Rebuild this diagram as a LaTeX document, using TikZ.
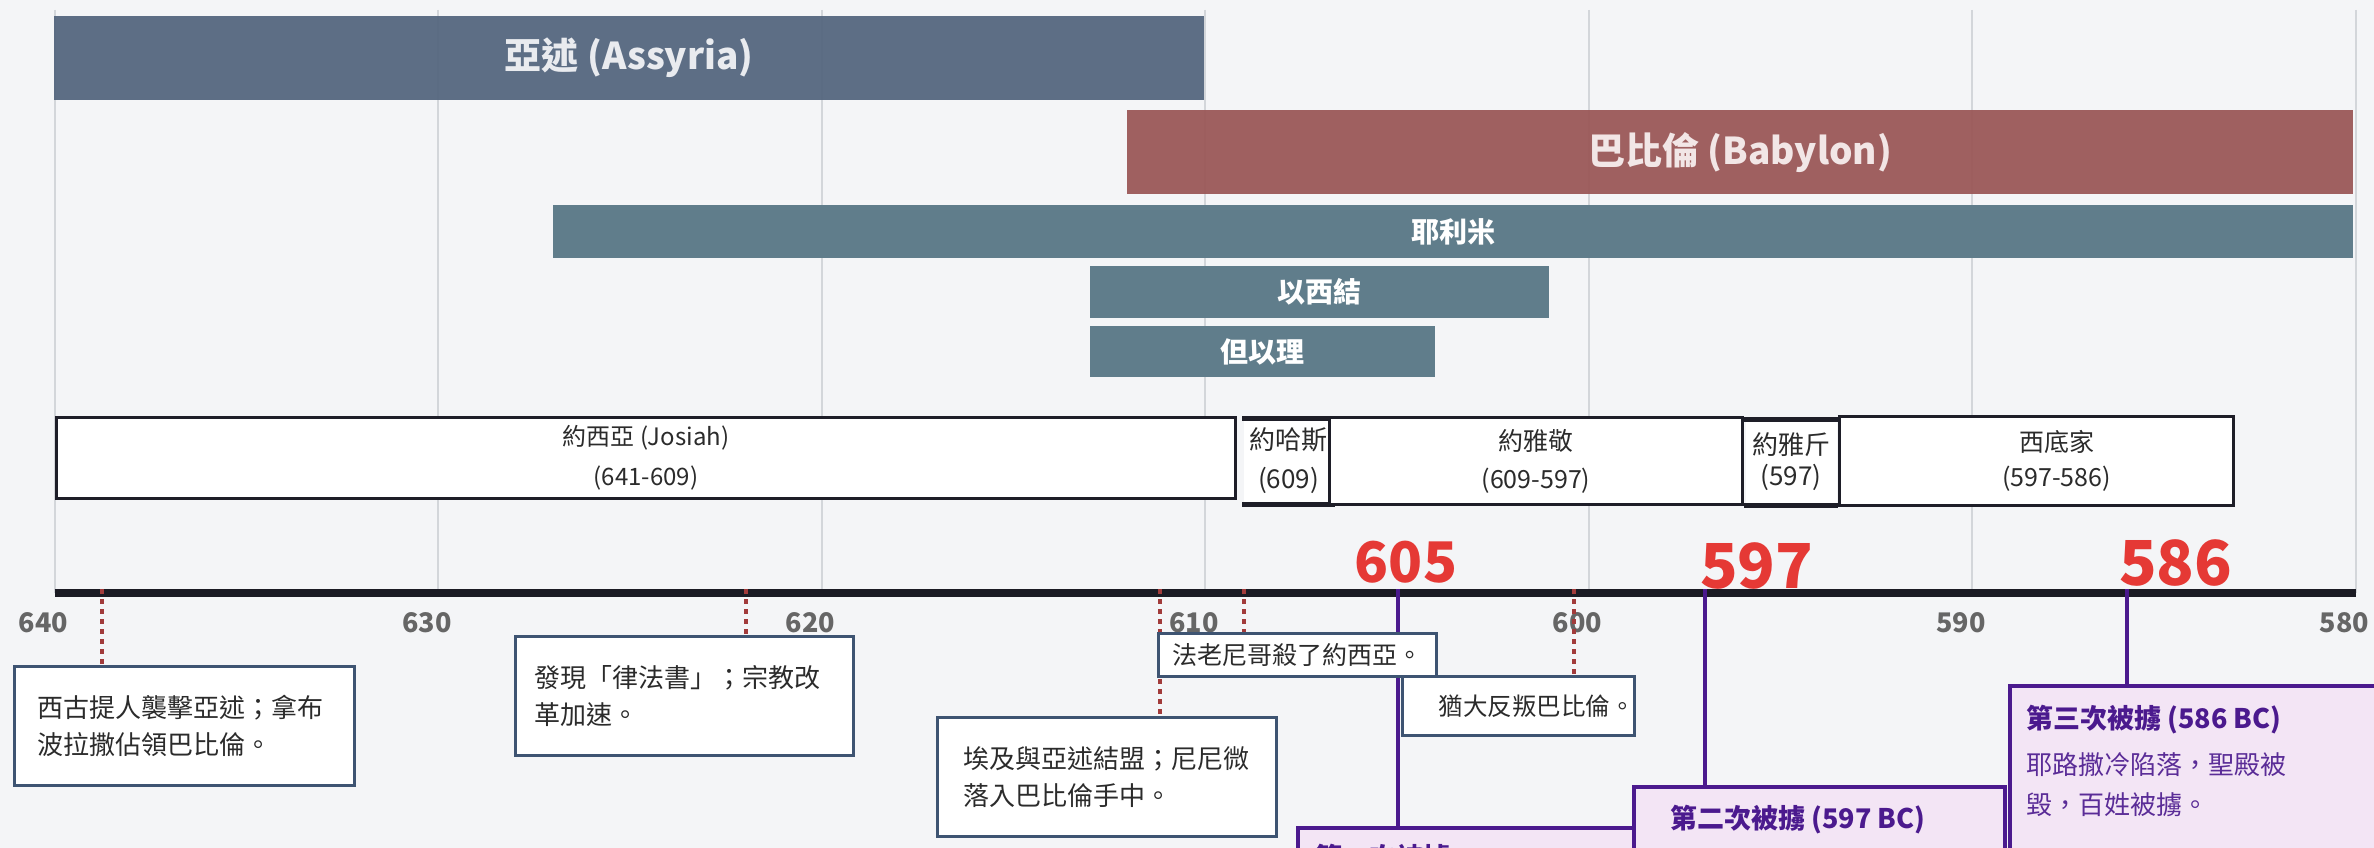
\documentclass[tikz,border=0pt]{standalone}
\usepackage{fontspec}
\setmainfont{Noto Sans CJK TC}
\usetikzlibrary{calc}

\definecolor{bgcol}{HTML}{F4F5F7}
\definecolor{gridcol}{HTML}{D3D6DA}
\definecolor{assyriacol}{HTML}{55677F}
\definecolor{assyriatext}{HTML}{E9EBEF}
\definecolor{babyloncol}{HTML}{9B5858}
\definecolor{babylontext}{HTML}{F2E6E6}
\definecolor{prophetcol}{HTML}{607D8B}
\definecolor{axiscol}{HTML}{1B1B24}
\definecolor{yearcol}{HTML}{666666}
\definecolor{keycol}{HTML}{E53935}
\definecolor{capcol}{HTML}{4B1A8E}
\definecolor{capfill}{HTML}{F3E5F5}
\definecolor{eventcol}{HTML}{3E5472}
\definecolor{linkcol}{HTML}{A23B3B}
\definecolor{kingcol}{HTML}{1E1E28}
\definecolor{textcol}{HTML}{2B2B2B}

\tikzset{
  gridline/.style={draw=gridcol, line width=2pt},
  axisline/.style={draw=axiscol, line width=8pt},
  yearlabel/.style={text=yearcol, anchor=base, inner sep=0pt, font=\bfseries\fontsize{27}{30}\selectfont},
  keyyear/.style={text=keycol, inner sep=0pt, font=\bfseries\fontsize{62}{64}\selectfont},
  empire/.style={fill=#1, fill opacity=0.95, text opacity=1, anchor=north west, inner sep=0pt, font=\bfseries\fontsize{37}{40}\selectfont},
  prophet/.style={fill=prophetcol, text=white, anchor=north west, inner sep=0pt, font=\bfseries\fontsize{28}{30}\selectfont},
  kingbox/.style={draw=kingcol, line width=3pt, fill=white, text=textcol, align=center, anchor=north west, inner sep=0pt},
  kingline/.style={draw=kingcol, line width=5pt},
  evbox/.style={draw=eventcol, line width=3pt, fill=white, text=textcol, align=left, anchor=north west, inner ysep=0pt, font=\fontsize{26}{37}\selectfont},
  eventlink/.style={draw=linkcol, line width=3.5pt, dash pattern=on 5pt off 5pt},
  capline/.style={draw=capcol, line width=3.5pt},
  capbox/.style={draw=capcol, line width=4pt, fill=capfill, anchor=north west},
  captitle/.style={text=capcol, anchor=west, inner sep=0pt, font=\bfseries\fontsize{27}{30}\selectfont},
  capbody/.style={text=capcol!92!white, align=left, anchor=west, inner sep=0pt, font=\fontsize{26}{40}\selectfont},
}

\begin{document}
\begin{tikzpicture}[x=1pt,y=-1pt]
  \useasboundingbox (0,0) rectangle (2374,848);
  \clip (0,0) rectangle (2374,848);
  \fill[bgcol] (0,0) rectangle (2374,848);

  % === Grid lines ===
  \foreach \yr in {640,630,...,580} {
    \coordinate (g\yr) at ({54.5+(640-\yr)*38.35},593);
    \draw[gridline] ({54.5+(640-\yr)*38.35},10) -- (g\yr);
  }

  % === Empires ===
  \node[empire=assyriacol, text=assyriatext, minimum width=1150pt, minimum height=84pt] (assyria) at (54,16) {亞述 (Assyria)};
  \node[empire=babyloncol, text=babylontext, minimum width=1226pt, minimum height=84pt] (babylon) at (1127,110) {巴比倫 (Babylon)};

  % === Prophets ===
  \node[prophet, minimum width=1800pt, minimum height=53pt] (jeremiah) at (553,205) {耶利米};
  \node[prophet, minimum width=459pt, minimum height=52pt] (ezekiel) at (1090,266) {以西結};
  \node[prophet, minimum width=345pt, minimum height=51pt] (daniel) at (1090,326) {但以理};

  % === Kings of Judah ===
  \node[kingbox, minimum width=1179pt, minimum height=81pt, font=\fontsize{24}{40}\selectfont] (josiah) at (55,416) {約西亞 (Josiah)\\(641-609)};
  \node[kingbox, draw=none, minimum width=90pt, minimum height=83pt, font=\fontsize{26}{39}\selectfont] (jehoahaz) at (1242,418) {約哈斯\\(609)};
  \draw[kingline] (jehoahaz.north west) -- (jehoahaz.north east);
  \draw[kingline] (jehoahaz.south west) -- (jehoahaz.south east);
  \node[kingbox, minimum width=413pt, minimum height=87pt, font=\fontsize{25}{38}\selectfont] (jehoiakim) at (1328,416) {約雅敬\\(609-597)};
  \node[kingbox, draw=none, minimum width=91pt, minimum height=83pt, font=\fontsize{26}{31}\selectfont] (jehoiachin) at (1744,419) {約雅斤\\(597)};
  \draw[kingline] (jehoiachin.north west) -- (jehoiachin.north east);
  \draw[kingline] (jehoiachin.south west) -- (jehoiachin.south east);
  \node[kingbox, minimum width=394pt, minimum height=89pt, font=\fontsize{25}{35}\selectfont] (zedekiah) at (1838,415) {\hspace*{40pt}西底家\\\hspace*{40pt}(597-586)};

  % === Axis and year labels ===
  \draw[axisline] (g640) -- (g580);
  \foreach \yr in {640,630,...,580}
    \node[yearlabel] (y\yr) at ($(g\yr)+(-11,39)$) {\yr};

  % Event ticks on the axis
  \coordinate (tick1) at (102,589);
  \coordinate (tick2) at (746,589);
  \coordinate (tick3) at (1160,589);
  \coordinate (tick4) at (1244,589);
  \coordinate (tick5) at (1574,589);
  \coordinate (k605) at (1398,589);
  \coordinate (k597) at (1705,589);
  \coordinate (k586) at (2127,589);

  % === Captivities ===
  \node[capbox, minimum width=420pt, minimum height=200pt] (cap1) at (1296,826) {};
  \node[captitle] (cap1title) at (1315,857) {第一次被擄};
  \node[capbox, minimum width=371pt, minimum height=200pt] (cap2) at (1632,785) {};
  \node[captitle] (cap2title) at (1670,820) {第二次被擄 (597 BC)};
  \node[capbox, minimum width=420pt, minimum height=300pt] (cap3) at (2008,684) {};
  \node[captitle] (cap3title) at (2026,720) {第三次被擄 (586 BC)};
  \node[capbody] (cap3body) at (2026,785) {耶路撒冷陷落，聖殿被\\毀，百姓被擄。};

  \draw[capline] (k605) -- (k605 |- cap1.north);
  \draw[capline] (k597) -- (k597 |- cap2.north);
  \draw[capline] (k586) -- (k586 |- cap3.north);

  \node[keyyear, anchor=base, font=\bfseries\fontsize{56}{60}\selectfont] (n605) at (1406,582) {605};
  \node[keyyear, anchor=base west] (n597) at (1700,588) {597};
  \node[keyyear, anchor=base west] (n586) at (2119,585) {586};

  % === Events ===
  \node[evbox, text width=294pt, inner xsep=23pt, minimum height=119pt] (ev1) at (13,665) {西古提人襲擊亞述；拿布\\波拉撒佔領巴比倫。};
  \node[evbox, text width=300pt, inner xsep=19pt, minimum height=119pt] (ev2) at (514,635) {發現「律法書」；宗教改\\革加速。};
  \node[evbox, text width=287pt, inner xsep=26pt, minimum height=119pt] (ev3) at (936,716) {埃及與亞述結盟；尼尼微\\落入巴比倫手中。};

  \draw[eventlink] (tick1) -- (tick1 |- ev1.north);
  \draw[eventlink] (tick2) -- (tick2 |- ev2.north);
  \draw[eventlink] (tick3) -- (tick3 |- ev3.north);

  \node[evbox, align=center, minimum width=278pt, minimum height=43pt, font=\fontsize{25}{30}\selectfont] (ev4) at (1157,632) {法老尼哥殺了約西亞。};
  \node[evbox, align=right, text width=232pt, inner xsep=0pt, minimum height=59pt, font=\fontsize{24.5}{30}\selectfont] (ev5) at (1401,675) {猶大反叛巴比倫。};

  \draw[eventlink] (tick4) -- (tick4 |- ev4.north);
  \draw[eventlink] (tick5) -- (tick5 |- ev5.north);
\end{tikzpicture}
\end{document}
